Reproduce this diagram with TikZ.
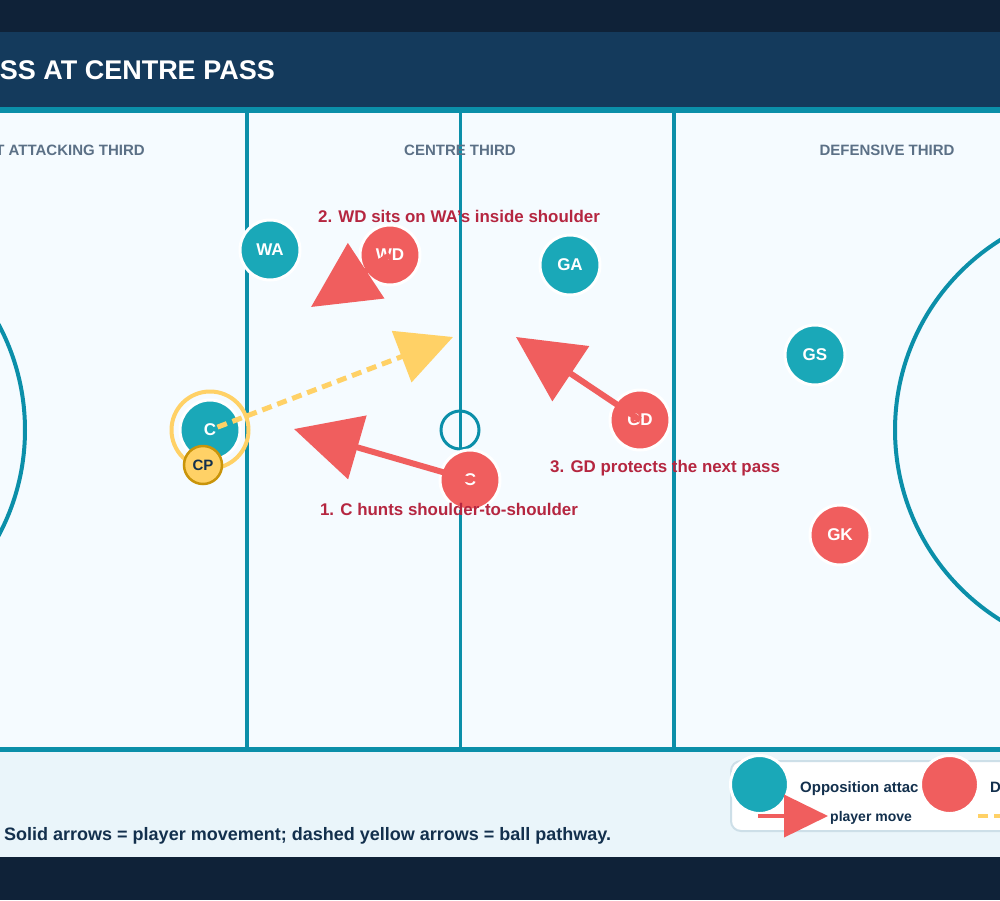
\documentclass[tikz,border=0pt]{standalone}
\usepackage{fontspec}
\setmainfont{Liberation Sans}
\usetikzlibrary{arrows.meta}
\definecolor{navy}{HTML}{0F2238}
\definecolor{header}{HTML}{143A5C}
\definecolor{courtline}{HTML}{0B8FA9}
\definecolor{courtfill}{HTML}{F5FBFF}
\definecolor{panel}{HTML}{EAF5FA}
\definecolor{attteal}{HTML}{1AA8B8}
\definecolor{coral}{HTML}{F05E5E}
\definecolor{crimson}{HTML}{B52640}
\definecolor{thirdgray}{HTML}{5B7086}
\definecolor{ball}{HTML}{FFD166}
\definecolor{gold}{HTML}{C9940A}
\definecolor{darktext}{HTML}{13304D}
\definecolor{legborder}{HTML}{CDDFE8}
\newcommand\myfs[1]{\fontsize{#1}{#1}\selectfont\bfseries}
\tikzset{
  att/.style={circle, fill=attteal, draw=white, line width=3pt, minimum size=60pt, inner sep=0pt, text=white, font=\myfs{17}},
  dfd/.style={att, fill=coral},
  thirdlabel/.style={anchor=base, text=thirdgray, font=\myfs{15}},
  note/.style={anchor=base, text=crimson, font=\myfs{16.9}},
  move/.style={draw=coral, line width=6pt, -{Triangle[length=66pt,width=65pt]}},
  pass/.style={draw=ball, line width=5pt, dash pattern=on 10pt off 6pt, -{Triangle[length=55pt,width=54pt]}},
  cline/.style={draw=courtline},
}
\begin{document}
\begin{tikzpicture}[x=1pt,y=-1pt]
\useasboundingbox (0,0) rectangle (1000,900);
\begin{scope}
\clip (0,0) rectangle (1000,900);
% backgrounds
\fill[navy] (0,0) rectangle (1000,900);
\fill[header] (0,32) rectangle (1000,107);
\fill[courtline] (0,107) rectangle (1000,113);
\fill[courtfill] (0,113) rectangle (1000,747);
\fill[courtline] (0,747) rectangle (1000,752);
\fill[panel] (0,752) rectangle (1000,857);
% title
\node[anchor=base east, text=white, font=\myfs{27}, inner sep=0pt] (title) at (275,79) {SS AT CENTRE PASS};
% court lines
\draw[cline, line width=4pt] (247,113) -- (247,747);
\draw[cline, line width=3pt] (460,113) -- (460,747);
\draw[cline, line width=4pt] (674,113) -- (674,747);
\draw[cline, line width=4pt] (-199,430) circle[radius=224];
\draw[cline, line width=4pt] (1119,430) circle[radius=224];
\draw[cline, line width=3pt] (460,430) circle[radius=19];
% third labels
\node[thirdlabel, anchor=base east, inner sep=0pt] (tl1) at (145,155) {T ATTACKING THIRD};
\node[thirdlabel, inner sep=0pt] (tl2) at (460,155) {CENTRE THIRD};
\node[thirdlabel, inner sep=0pt] (tl3) at (887,155) {DEFENSIVE THIRD};
% C ring
\draw[ball, line width=4pt] (210,430) circle[radius=38.5];
% players
\node[att] (WA) at (270,250) {WA};
\node[dfd] (WD) at (390,255) {WD};
\node[att] (GA) at (570,265) {GA};
\node[att] (GS) at (815,355) {GS};
\node[att] (C) at (210,430) {C};
\node[dfd] (GD) at (640,420) {GD};
\node[dfd] (Cd) at (470,480) {C};
\node[dfd] (GK) at (840,535) {GK};
% targets
\coordinate (t1) at (294,429);
\coordinate (t2) at (311,307);
\coordinate (t3) at (516,337);
\coordinate (tb) at (453,337);
% ball pathway
\draw[pass, shorten <=8pt] (C.center) -- (tb);
% CP
\node[circle, fill=ball, draw=gold, line width=2.5pt, minimum size=38pt, inner sep=0pt, text=darktext, font=\myfs{15}] (CP) at (203,465) {CP};
% player movements
\draw[move] (Cd.center) -- (t1);
\draw[move] (WD.center) -- (t2);
\draw[move] (GD.center) -- (t3);
% notes
\node[note, inner sep=0pt] (n2) at (459,222) {2. WD sits on WA’s inside shoulder};
\node[note, inner sep=0pt] (n1) at (449,515) {1. C hunts shoulder-to-shoulder};
\node[note, anchor=base west, inner sep=0pt] (n3) at (550,472) {3. GD protects the next pass};
% footer note
\node[anchor=base west, text=darktext, font=\myfs{18}, inner sep=0pt] (foot) at (4,840) {Solid arrows = player movement; dashed yellow arrows = ball pathway.};
% legend
\draw[fill=white, draw=legborder, line width=2pt, rounded corners=10pt] (731,761) rectangle (1020,831);
\node[anchor=base west, text=darktext, font=\myfs{15}, inner sep=0pt] (lg1) at (800,792) {Opposition attac};
\node[att, minimum size=58pt] (lgA) at (759.5,784.5) {};
\node[dfd, minimum size=58pt] (lgD) at (949.5,784.5) {};
\node[anchor=base west, text=darktext, font=\myfs{15}, inner sep=0pt] (lg2) at (990,792) {D};
\coordinate (lgs) at (758,816);
\coordinate (lge) at (828,816);
\draw[draw=coral, line width=4pt, -{Triangle[length=44pt,width=42pt]}] (lgs) -- (lge);
\node[anchor=base west, text=darktext, font=\myfs{14}, inner sep=0pt] (lg3) at (830,821) {player move};
\coordinate (lys) at (978,816);
\coordinate (lye) at (1010,816);
\draw[draw=ball, line width=4pt, dash pattern=on 10pt off 6pt] (lys) -- (lye);
\end{scope}
\end{tikzpicture}
\end{document}
